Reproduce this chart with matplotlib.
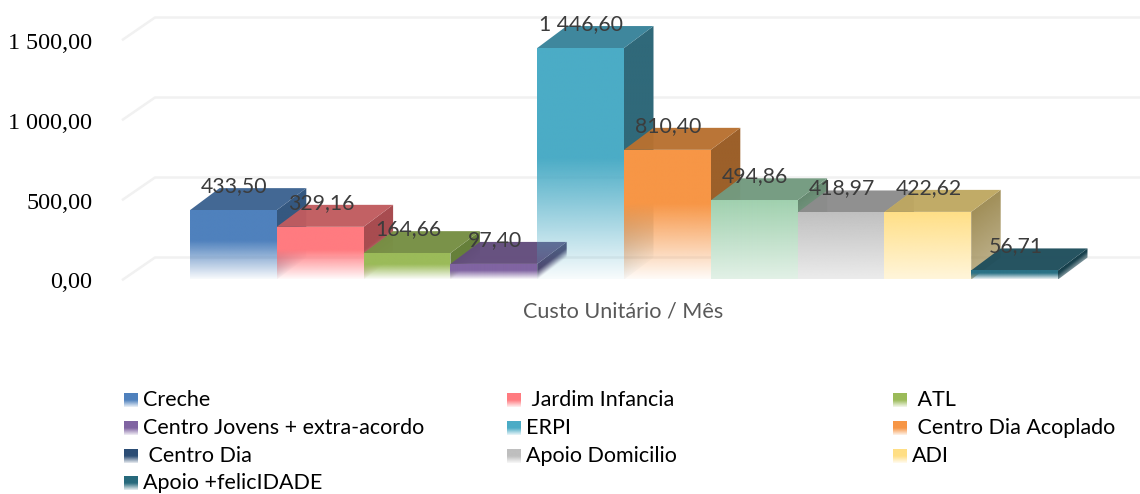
import matplotlib
matplotlib.use("Agg")
import matplotlib.pyplot as plt
from matplotlib.colors import to_rgb
from matplotlib.patches import Polygon
from matplotlib.transforms import ScaledTranslation
import numpy as np

# data
categories = ["Creche", " Jardim Infancia", " ATL", "Centro Jovens + extra-acordo", "ERPI",
              " Centro Dia Acoplado", " Centro Dia", "Apoio Domicilio", "ADI", "Apoio +felicIDADE"]
values = [433.50, 329.16, 164.66, 97.40, 1446.60, 810.40, 494.86, 418.97, 422.62, 56.71]
value_labels = ["433,50", "329,16", "164,66", "97,40", "1 446,60", "810,40", "494,86", "418,97", "422,62", "56,71"]
y_ticks = [0, 500, 1000, 1500]
y_tick_labels = ["0,00", "500,00", "1 000,00", "1 500,00"]
x_label = "Custo Unitário / Mês"

# bar colours (front, top, side)
front_colors = ["#4F81BD", "#FF7B80", "#9BBB59", "#8064A2", "#4BACC6", "#F79646", "#9FD0AE", "#BFBFBF", "#FFDF85", "#2A7286"]
top_colors = ["#3D6391", "#C05C5F", "#768F43", "#624C7C", "#39839A", "#B87130", "#739A7F", "#8C8C8C", "#BFA862", "#1F4E5C"]
side_colors = ["#355880", "#A84C50", "#66803A", "#4E3D66", "#30697A", "#9C602A", "#64886F", "#7A7A7A", "#A08E58", "#17404C"]
fade_start = [0.55, 0.55, 0.55, 0.55, 0.52, 0.58, 1.0, 1.0, 1.0, 0.6]
front_floor = [0.04, 0.04, 0.04, 0.04, 0.04, 0.04, 0.3, 0.3, 0.3, 0.1]
side_floor = [0.04, 0.04, 0.04, 0.04, 0.04, 0.04, 0.6, 0.6, 0.7, 0.6]
opaque_front = [False, False, False, False, False, False, True, True, True, False]
legend_colors = ["#4F81BD", "#FF7B80", "#9BBB59", "#8064A2", "#4BACC6", "#F79646", "#2C4D75", "#BFBFBF", "#FFDF85", "#276A7C"]

W, H = 1140, 494
BAR_PX = 86.8
Y_PX = 0.16       # pixels for one unit of value
AX_LEFT, AX_BOTTOM = 123, 300
ZERO_X, ZERO_Y = 190, 279.5
DEPTH_X = 29.5 / BAR_PX
DEPTH_Y = 22 / Y_PX
GRID_DX = 32 / BAR_PX
GRID_COLOR = "#F1F1F1"
TEXT_COLOR = "#3C3C3C"


def shaded_face(ax, x0, width, y0, height, skew, color, start, floor, zorder):
    # gradient image clipped to the (maybe skewed) face
    rows, cols = 240, 40
    lo = min(y0, y0 + height) + min(skew, 0)
    hi = max(y0, y0 + height) + max(skew, 0)
    yy = np.linspace(lo, hi, rows)
    uu = np.linspace(0, 1, cols)
    u, y = np.meshgrid(uu, yy)
    v = (y - y0 - u * skew) / height
    img = np.zeros((rows, cols, 4))
    img[..., :3] = to_rgb(color)
    img[..., 3] = floor + (1 - floor) * np.clip(v / start, 0, 1)
    im = ax.imshow(img, extent=(x0, x0 + width, lo, hi), origin="lower", aspect="auto",
                   interpolation="bilinear", zorder=zorder)
    corners = [(x0, y0), (x0 + width, y0 + skew), (x0 + width, y0 + height + skew), (x0, y0 + height)]
    clip = Polygon(corners, closed=True, transform=ax.transData, fc="none", ec="none")
    ax.add_patch(clip)
    im.set_clip_path(clip)


def main() -> None:
    fig = plt.figure(figsize=(W / 100, H / 100), dpi=100, facecolor="white")
    ax = fig.add_axes([AX_LEFT / W, (H - AX_BOTTOM) / H, (W - AX_LEFT) / W, AX_BOTTOM / H])
    xlim = ((AX_LEFT - ZERO_X) / BAR_PX, (W - ZERO_X) / BAR_PX)
    ylim = ((ZERO_Y - AX_BOTTOM) / Y_PX, ZERO_Y / Y_PX)
    for s in ax.spines.values():
        s.set_visible(False)
    ax.set_xticks([])
    ax.set_yticks(y_ticks, y_tick_labels, family="Liberation Serif", fontsize=17.4, color="black")
    ax.tick_params(axis="y", length=0, pad=22)
    for lab in ax.get_yticklabels():
        lab.set_transform(lab.get_transform() + ScaledTranslation(0, -0.01, fig.dpi_scale_trans))

    # gridlines, front corner then back wall
    for t in y_ticks:
        ax.plot([xlim[0], xlim[0] + GRID_DX, xlim[1]], [t, t + DEPTH_Y, t + DEPTH_Y],
                color=GRID_COLOR, lw=1.8, zorder=1, clip_on=False)

    # painter's order, left to right, so the faded fronts show what is behind
    for i, val in enumerate(values):
        z = 2 + i
        top = [(i, val), (i + 1, val), (i + 1 + DEPTH_X, val + DEPTH_Y), (i + DEPTH_X, val + DEPTH_Y)]
        shaded_face(ax, i + 1, DEPTH_X, 0, val, DEPTH_Y, side_colors[i], fade_start[i], side_floor[i], z)
        ax.add_patch(Polygon(top, closed=True, fc=top_colors[i], ec="none", alpha=0.97, zorder=z))
        if opaque_front[i]:
            ax.bar(i, val, width=1, align="edge", color="white", zorder=z)
        shaded_face(ax, i, 1, 0, val, 0, front_colors[i], fade_start[i], front_floor[i], z)

    for i, val in enumerate(values):
        ax.text(i + 0.51, val + 150, value_labels[i], ha="center", va="center", family="Lato",
                fontsize=15.3, color=TEXT_COLOR, zorder=30, clip_on=False)
    ax.set_xlim(xlim)
    ax.set_ylim(ylim)

    # legend drawn by hand because the swatches carry a gradient
    lg = fig.add_axes([0, 0, 1, 1], facecolor="none")
    lg.axis("off")
    lg.text(623, 311, x_label, ha="center", va="center", family="Lato", fontsize=15.6, color="#595959")
    col_x = [124, 507, 893]
    row_y = [400, 428, 455.5, 483]
    for i, name in enumerate(categories):
        r, c = i // 3, i % 3
        x, y = col_x[c], row_y[r]
        shaded_face(lg, x, 14, y + 7, -14, 0, legend_colors[i], 0.5, 0.1, 2)
        lg.text(x + 19, y, name, ha="left", va="center", family="Lato", fontsize=15.5, color="black")
    lg.set_xlim(0, W)
    lg.set_ylim(H, 0)

    fig.savefig("out.png", dpi=100)


if __name__ == "__main__":
    main()
